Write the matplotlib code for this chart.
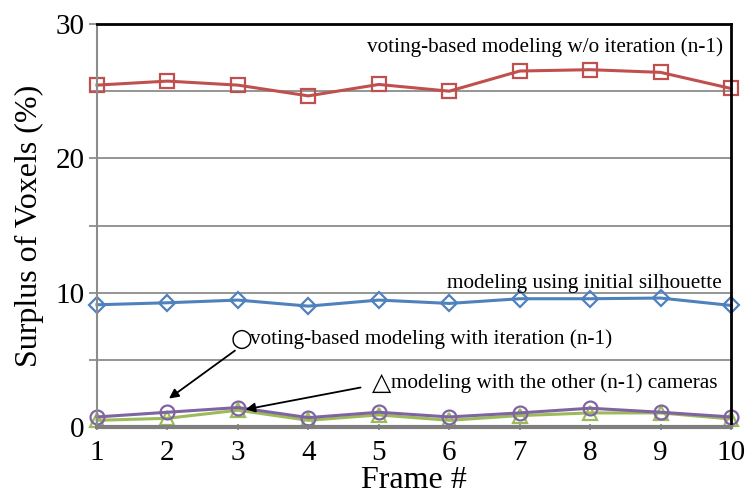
import matplotlib
matplotlib.use("Agg")
import matplotlib.pyplot as plt

frames = [1, 2, 3, 4, 5, 6, 7, 8, 9, 10]
wo_iteration = [25.45, 25.75, 25.45, 24.65, 25.5, 25.0, 26.5, 26.6, 26.4, 25.2]
initial_silhouette = [9.1, 9.25, 9.45, 9.0, 9.45, 9.2, 9.55, 9.55, 9.6, 9.05]
with_iteration = [0.75, 1.1, 1.45, 0.7, 1.1, 0.75, 1.05, 1.4, 1.1, 0.75]
other_cameras = [0.5, 0.65, 1.25, 0.5, 0.9, 0.5, 0.85, 1.05, 1.05, 0.6]

plt.rcParams['font.family'] = ['Liberation Serif', 'DejaVu Serif']

fig = plt.figure(figsize=(7.48, 4.97), dpi=100)
ax = fig.add_axes([0.1297, 0.1408, 0.8476, 0.8109])

for y in [5, 10, 15, 20, 25]:
    ax.axhline(y, color='#8c8c8c', lw=1.3, zorder=0)

kw = dict(lw=2.2, markersize=10, markeredgewidth=1.6, fillstyle='none', clip_on=False)
ax.plot(frames, wo_iteration, color='#C0504D', marker='s', **kw)
ax.plot(frames, initial_silhouette, color='#4F81BD', marker='D', markersize=8,
        lw=2.2, markeredgewidth=1.6, fillstyle='none', clip_on=False)
ax.plot(frames, other_cameras, color='#9BBB59', marker='^', **kw)
ax.plot(frames, with_iteration, color='#8064A2', marker='o', **kw)

ax.set_xlim(1, 10)
ax.set_ylim(0, 30)
ax.set_xticks(frames)
ax.set_yticks([0, 10, 20, 30])
ax.set_yticks([5, 15, 25], minor=True)
ax.tick_params(axis='both', labelsize=21, color='#8c8c8c', width=1.3)
ax.tick_params(axis='y', which='major', length=6, direction='out', pad=3)
ax.tick_params(axis='y', which='minor', length=6, direction='out', color='#8c8c8c', width=1.3)
ax.tick_params(axis='x', length=5, direction='inout', pad=7)

ax.spines['left'].set_color('#8c8c8c')
ax.spines['left'].set_linewidth(1.5)
ax.spines['bottom'].set_color('#7f7f7f')
ax.spines['bottom'].set_linewidth(3)
ax.spines['top'].set_color('black')
ax.spines['top'].set_linewidth(2)
ax.spines['right'].set_color('black')
ax.spines['right'].set_linewidth(2)

ax.set_xlabel('Frame #', fontsize=23, labelpad=0)
ax.set_ylabel('Surplus of Voxels (%)', fontsize=23, labelpad=8)

ax.text(9.89, 28.3, 'voting-based modeling w/o iteration (n-1)', fontsize=15.3,
        ha='right', va='center')
ax.text(9.87, 10.72, 'modeling using initial silhouette', fontsize=15.3,
        ha='right', va='center')
ax.text(2.89, 6.55, '\u25cb', fontsize=18, ha='left', va='center',
        family=['DejaVu Sans'])
ax.text(3.17, 6.55, 'voting-based modeling with iteration (n-1)', fontsize=15.3,
        ha='left', va='center')
ax.text(4.9, 3.28, '\u25b3', fontsize=18, ha='left', va='center',
        family=['DejaVu Sans'])
ax.text(5.18, 3.28, 'modeling with the other (n-1) cameras', fontsize=15.3,
        ha='left', va='center')

ax.annotate('', xy=(1.99, 2.0), xytext=(2.99, 5.81),
            arrowprops=dict(arrowstyle='-|>', color='black', lw=1.3, mutation_scale=14))
ax.annotate('', xy=(3.07, 1.27), xytext=(4.78, 2.98),
            arrowprops=dict(arrowstyle='-|>', color='black', lw=1.3, mutation_scale=14))

fig.savefig('out.png', dpi=100)
